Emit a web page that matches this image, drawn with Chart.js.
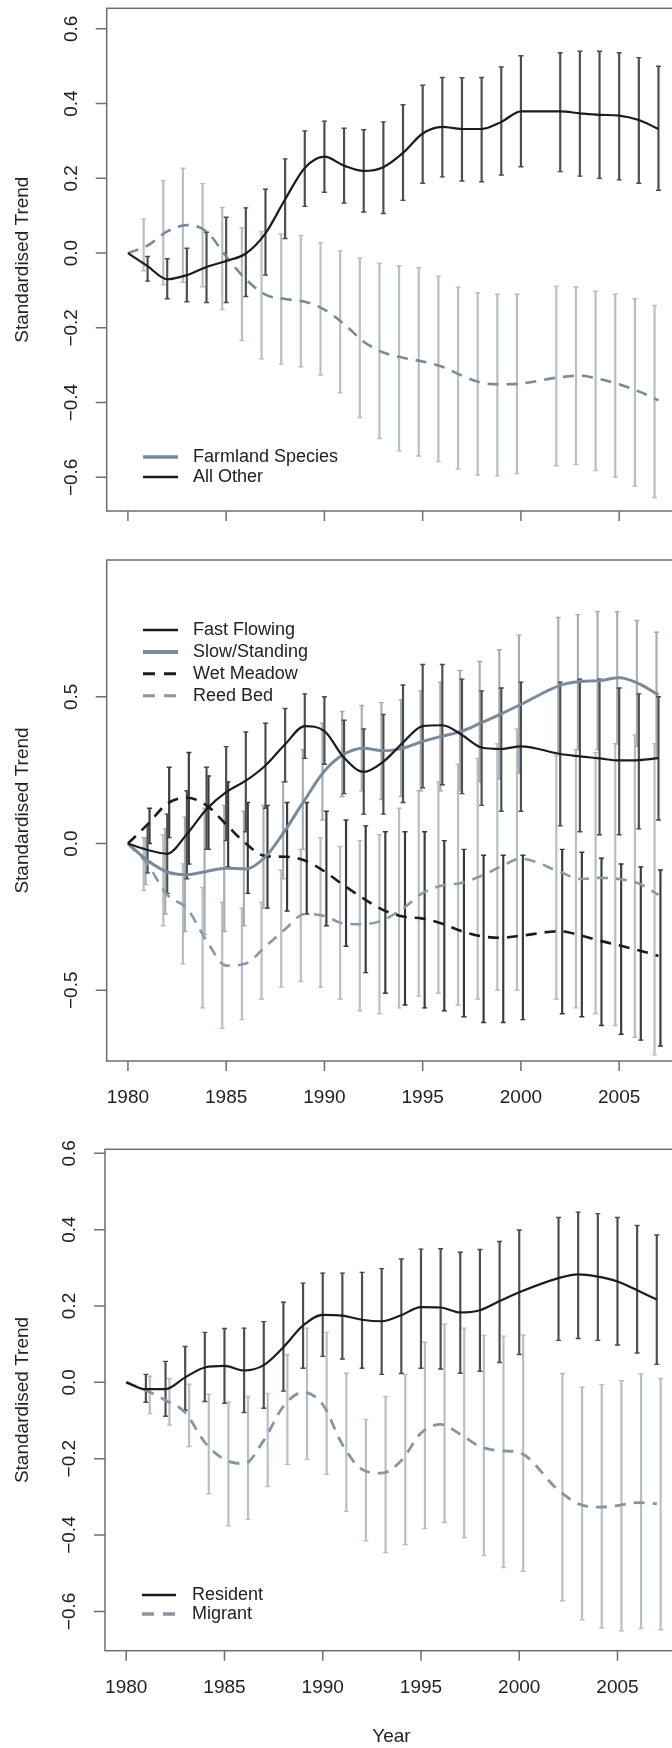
<!DOCTYPE html>
<html>
<head>
<meta charset="utf-8">
<script src="https://cdn.jsdelivr.net/npm/chart.js@4.4.1/dist/chart.umd.min.js"></script>
<style>
  html, body { margin: 0; padding: 0; background: #fff; width: 672px; height: 1748px; overflow: hidden; position: relative; }
  canvas { position: absolute; left: 0; }
</style>
</head>
<body>
<canvas id="farm" width="690" height="540" style="top:0"></canvas>
<canvas id="habitat" width="690" height="580" style="top:540px"></canvas>
<canvas id="migr" width="690" height="628" style="top:1120px"></canvas>
<script>
// years with a trend value (no survey in 2001); error bars from 1981 on
const years = [1980, 1981, 1982, 1983, 1984, 1985, 1986, 1987, 1988, 1989, 1990,
  1991, 1992, 1993, 1994, 1995, 1996, 1997, 1998, 1999, 2000,
  2002, 2003, 2004, 2005, 2006, 2007];
const barYears = years.slice(1);
const xTicks = [1980, 1985, 1990, 1995, 2000, 2005];
const yTicksA = [-0.6, -0.4, -0.2, 0, 0.2, 0.4, 0.6];
const yTicksB = [-0.5, 0, 0.5];
const yTicksC = [-0.6, -0.4, -0.2, 0, 0.2, 0.4, 0.6];

// panel 1
const farmland = [0, 0.02, 0.058, 0.075, 0.058, -0.009, -0.07, -0.111, -0.123, -0.13, -0.151,
  -0.19, -0.237, -0.266, -0.28, -0.29, -0.304, -0.328, -0.347, -0.351, -0.349,
  -0.332, -0.328, -0.337, -0.351, -0.37, -0.394];
const farmlandHi = [0.091, 0.194, 0.227, 0.186, 0.122, 0.068, 0.058, 0.051, 0.047, 0.028,
  0.006, -0.013, -0.028, -0.034, -0.039, -0.062, -0.091, -0.106, -0.11, -0.11,
  -0.089, -0.09, -0.102, -0.11, -0.122, -0.14];
const farmlandLo = [-0.047, -0.085, -0.078, -0.09, -0.151, -0.234, -0.283, -0.297, -0.304, -0.326,
  -0.374, -0.44, -0.496, -0.529, -0.543, -0.558, -0.578, -0.594, -0.596, -0.59,
  -0.569, -0.566, -0.582, -0.599, -0.624, -0.654];
const allOther = [0, -0.035, -0.07, -0.059, -0.037, -0.021, -0.001, 0.053, 0.144, 0.228, 0.258,
  0.234, 0.22, 0.23, 0.268, 0.32, 0.338, 0.332, 0.332, 0.351, 0.379,
  0.379, 0.374, 0.37, 0.368, 0.356, 0.332];
const allOtherHi = [-0.009, -0.015, 0.013, 0.056, 0.096, 0.121, 0.171, 0.252, 0.327, 0.353,
  0.334, 0.33, 0.351, 0.397, 0.449, 0.47, 0.469, 0.47, 0.498, 0.528,
  0.536, 0.54, 0.54, 0.536, 0.523, 0.5];
const allOtherLo = [-0.075, -0.122, -0.13, -0.132, -0.132, -0.116, -0.059, 0.039, 0.125, 0.163,
  0.134, 0.11, 0.106, 0.141, 0.187, 0.204, 0.193, 0.191, 0.209, 0.231,
  0.218, 0.206, 0.2, 0.196, 0.187, 0.168];

// panel 2
const fast = [0, -0.022, -0.035, 0.032, 0.117, 0.175, 0.214, 0.266, 0.338, 0.4, 0.383,
  0.292, 0.244, 0.279, 0.344, 0.4, 0.403, 0.37, 0.327, 0.322, 0.331,
  0.305, 0.297, 0.29, 0.283, 0.284, 0.291];
const fastHi = [0.06, 0.10, 0.18, 0.26, 0.33, 0.38, 0.41, 0.46, 0.51, 0.50,
  0.42, 0.39, 0.44, 0.54, 0.61, 0.61, 0.56, 0.52, 0.53, 0.55,
  0.55, 0.56, 0.56, 0.53, 0.51, 0.50];
const fastLo = [-0.10, -0.17, -0.12, -0.02, 0.01, 0.04, 0.12, 0.21, 0.29, 0.27,
  0.17, 0.10, 0.10, 0.14, 0.19, 0.20, 0.17, 0.13, 0.11, 0.11,
  0.06, 0.04, 0.03, 0.03, 0.05, 0.08];
const slow = [0, -0.058, -0.097, -0.106, -0.095, -0.084, -0.087, -0.045, 0.045, 0.149, 0.247,
  0.305, 0.325, 0.316, 0.325, 0.348, 0.366, 0.383, 0.412, 0.442, 0.474,
  0.539, 0.552, 0.555, 0.565, 0.545, 0.506];
const slowHi = [0.02, 0.05, 0.09, 0.12, 0.13, 0.11, 0.13, 0.21, 0.32, 0.41,
  0.45, 0.47, 0.48, 0.49, 0.52, 0.55, 0.59, 0.62, 0.66, 0.71,
  0.77, 0.78, 0.79, 0.79, 0.76, 0.72];
const slowLo = [-0.14, -0.24, -0.30, -0.31, -0.30, -0.28, -0.22, -0.12, -0.02, 0.08,
  0.16, 0.18, 0.15, 0.16, 0.18, 0.18, 0.18, 0.21, 0.22, 0.24,
  0.31, 0.32, 0.32, 0.34, 0.33, 0.29];
const wet = [0, 0.065, 0.136, 0.156, 0.13, 0.065, 0.0, -0.043, -0.045, -0.058, -0.095,
  -0.143, -0.188, -0.227, -0.249, -0.256, -0.273, -0.299, -0.316, -0.321, -0.314,
  -0.299, -0.312, -0.331, -0.347, -0.364, -0.383];
const wetHi = [0.12, 0.26, 0.31, 0.23, 0.21, 0.14, 0.13, 0.14, 0.14, 0.11,
  0.08, 0.06, 0.04, 0.04, 0.04, 0.01, -0.02, -0.04, -0.04, -0.04,
  -0.02, -0.03, -0.05, -0.07, -0.08, -0.09];
const wetLo = [0.00, 0.02, -0.07, -0.02, -0.08, -0.17, -0.22, -0.23, -0.24, -0.28,
  -0.35, -0.44, -0.51, -0.55, -0.56, -0.57, -0.59, -0.61, -0.61, -0.60,
  -0.58, -0.59, -0.62, -0.65, -0.67, -0.69];
const reed = [0, -0.071, -0.175, -0.221, -0.331, -0.416, -0.409, -0.351, -0.292, -0.24, -0.247,
  -0.273, -0.275, -0.26, -0.221, -0.169, -0.143, -0.134, -0.11, -0.078, -0.052,
  -0.097, -0.121, -0.117, -0.121, -0.136, -0.175];
const reedHi = [0.02, 0.03, -0.07, -0.15, -0.20, -0.22, -0.20, -0.09, -0.02, 0.02,
  -0.01, 0.01, 0.03, 0.12, 0.18, 0.21, 0.27, 0.29, 0.34, 0.39,
  0.30, 0.32, 0.31, 0.34, 0.37, 0.34];
const reedLo = [-0.16, -0.28, -0.41, -0.56, -0.63, -0.60, -0.53, -0.49, -0.47, -0.49,
  -0.53, -0.57, -0.58, -0.56, -0.52, -0.51, -0.55, -0.53, -0.50, -0.50,
  -0.53, -0.56, -0.58, -0.62, -0.66, -0.72];

// panel 3
const resident = [0, -0.018, -0.018, 0.013, 0.039, 0.043, 0.031, 0.045, 0.092, 0.149, 0.177,
  0.175, 0.164, 0.16, 0.176, 0.197, 0.196, 0.183, 0.189, 0.213, 0.236,
  0.273, 0.283, 0.277, 0.264, 0.241, 0.217];
const residentHi = [0.021, 0.055, 0.094, 0.131, 0.141, 0.142, 0.159, 0.21, 0.26, 0.286,
  0.286, 0.288, 0.298, 0.323, 0.349, 0.35, 0.341, 0.348, 0.369, 0.399,
  0.432, 0.446, 0.442, 0.432, 0.411, 0.386];
const residentLo = [-0.052, -0.089, -0.073, -0.05, -0.055, -0.079, -0.068, -0.023, 0.037, 0.068,
  0.061, 0.037, 0.021, 0.023, 0.037, 0.035, 0.024, 0.029, 0.052, 0.073,
  0.11, 0.115, 0.11, 0.098, 0.077, 0.047];
const migrant = [0, -0.021, -0.047, -0.079, -0.157, -0.202, -0.213, -0.152, -0.063, -0.026, -0.058,
  -0.163, -0.228, -0.238, -0.205, -0.133, -0.11, -0.136, -0.168, -0.179, -0.184,
  -0.283, -0.318, -0.327, -0.323, -0.315, -0.318];
const migrantHi = [0.016, 0.01, -0.005, -0.031, -0.052, -0.037, -0.029, 0.073, 0.142, 0.131,
  0.024, -0.097, -0.037, 0.021, 0.105, 0.152, 0.142, 0.123, 0.121, 0.124,
  0.023, -0.013, -0.006, 0.004, 0.022, 0.01];
const migrantLo = [-0.082, -0.112, -0.168, -0.292, -0.376, -0.359, -0.273, -0.215, -0.202, -0.241,
  -0.338, -0.415, -0.446, -0.425, -0.383, -0.367, -0.407, -0.454, -0.485, -0.495,
  -0.572, -0.622, -0.643, -0.651, -0.645, -0.648];

const FONT = '"Liberation Sans", Arial, sans-serif';
const BLACK = '#1c1c1c';
const SLATE = '#7b8998';
const DARKBAR = '#4d4d4d';
const LIGHTBAR = '#b6bec7';
const DASH = [11, 8];

function lineSet(label, vals, color, width, dash) {
  return {
    type: 'line', label,
    data: years.map((x, i) => ({ x, y: vals[i] })),
    borderColor: color, borderWidth: width, borderDash: dash || [],
    pointRadius: 0, fill: false, cubicInterpolationMode: 'monotone', order: 0
  };
}

// error bar = thin floating bar plus two flat "line" points as caps
function errSets(lo, hi, color, shift, order) {
  return [
    {
      type: 'bar',
      data: barYears.map((yr, i) => ({ x: yr + shift, y: [lo[i], hi[i]] })),
      backgroundColor: color, barThickness: 1.5, grouped: false, order
    },
    {
      type: 'line', showLine: false,
      data: barYears.flatMap((yr, i) => [{ x: yr + shift, y: lo[i] }, { x: yr + shift, y: hi[i] }]),
      pointStyle: 'line', pointRadius: 2.5, pointBorderWidth: 1.4,
      pointBorderColor: color, borderColor: color, order
    }
  ];
}

const fmt = v => (v < 0 ? '\u2212' : '') + Math.abs(v).toFixed(1);

const rFrame = {
  id: 'rFrame',
  afterDraw(chart, args, o) {
    const { ctx, chartArea: a, scales: { x, y } } = chart;
    ctx.save();
    ctx.strokeStyle = '#6f6f6f';
    ctx.lineWidth = 1.5;
    ctx.strokeRect(a.left, a.top, a.right - a.left, a.bottom - a.top);
    ctx.beginPath();
    xTicks.forEach(v => {
      const px = x.getPixelForValue(v);
      ctx.moveTo(px, a.bottom); ctx.lineTo(px, a.bottom + 10);
    });
    o.yTicks.forEach(v => {
      const py = y.getPixelForValue(v);
      ctx.moveTo(a.left, py); ctx.lineTo(a.left - 11, py);
    });
    ctx.stroke();

    ctx.fillStyle = '#222';
    ctx.font = '19px ' + FONT;
    ctx.textAlign = 'center';
    ctx.textBaseline = 'middle';
    if (o.xLabels) {
      xTicks.forEach(v => ctx.fillText(String(v), x.getPixelForValue(v), a.bottom + 37));
    }
    o.yTicks.forEach(v => {
      ctx.save();
      ctx.translate(a.left - 35, y.getPixelForValue(v));
      ctx.rotate(-Math.PI / 2);
      ctx.fillText(fmt(v), 0, 0);
      ctx.restore();
    });
    ctx.save();
    ctx.translate(23, (a.top + a.bottom) / 2);
    ctx.rotate(-Math.PI / 2);
    ctx.fillText('Standardised Trend', 0, 0);
    ctx.restore();
    if (o.xTitle) ctx.fillText(o.xTitle, (a.left + a.right) / 2, a.bottom + 86);

    // legend
    const L = o.legend;
    ctx.font = '18px ' + FONT;
    ctx.textAlign = 'left';
    L.items.forEach((it, k) => {
      const ly = L.y0 + k * L.dy;
      ctx.strokeStyle = it.color;
      ctx.lineWidth = it.width;
      ctx.setLineDash(it.dash || []);
      ctx.beginPath();
      ctx.moveTo(L.x0, ly); ctx.lineTo(L.x1, ly);
      ctx.stroke();
      ctx.setLineDash([]);
      ctx.fillText(it.label, L.tx, ly);
    });
    ctx.restore();
  }
};

function makePanel(id, datasets, yMin, yMax, pad, frameOpts) {
  return new Chart(document.getElementById(id), {
    type: 'line',
    data: { datasets },
    options: {
      responsive: false, animation: false, events: [],
      layout: { padding: pad },
      scales: {
        x: { type: 'linear', min: 1978.92, max: 2008.08, offset: false, display: false },
        y: { type: 'linear', min: yMin, max: yMax, display: false }
      },
      plugins: { legend: { display: false }, tooltip: { enabled: false }, rFrame: frameOpts }
    },
    plugins: [rFrame]
  });
}

makePanel('farm', [
  lineSet('All Other', allOther, BLACK, 2.2),
  lineSet('Farmland Species', farmland, SLATE, 2.6, DASH),
  ...errSets(allOtherLo, allOtherHi, DARKBAR, 0, 1),
  ...errSets(farmlandLo, farmlandHi, LIGHTBAR, -0.2, 2)
], -0.69, 0.655, { left: 106.7, right: 10.3, top: 8.3, bottom: 29 }, {
  yTicks: yTicksA, xLabels: false,
  legend: { x0: 143, x1: 178, tx: 193, y0: 457, dy: 20, items: [
    { label: 'Farmland Species', color: SLATE, width: 3.5 },
    { label: 'All Other', color: BLACK, width: 2.5 }
  ] }
});

makePanel('habitat', [
  lineSet('Fast Flowing', fast, BLACK, 2.2),
  lineSet('Slow/Standing', slow, SLATE, 3),
  lineSet('Wet Meadow', wet, BLACK, 2.6, DASH),
  lineSet('Reed Bed', reed, '#8d98a5', 2.6, DASH),
  ...errSets(fastLo, fastHi, DARKBAR, 0, 1),
  ...errSets(wetLo, wetHi, '#3a3a3a', 0.1, 1),
  ...errSets(slowLo, slowHi, '#a5adb6', -0.1, 2),
  ...errSets(reedLo, reedHi, LIGHTBAR, -0.2, 3)
], -0.741, 0.966, { left: 106.7, right: 10.3, top: 20, bottom: 59 }, {
  yTicks: yTicksB, xLabels: true,
  legend: { x0: 143, x1: 178, tx: 193, y0: 90, dy: 21.9, items: [
    { label: 'Fast Flowing', color: BLACK, width: 2.5 },
    { label: 'Slow/Standing', color: SLATE, width: 4 },
    { label: 'Wet Meadow', color: BLACK, width: 3, dash: [12, 9] },
    { label: 'Reed Bed', color: '#8d98a5', width: 3, dash: [12, 9] }
  ] }
});

makePanel('migr', [
  lineSet('Resident', resident, BLACK, 2.2),
  lineSet('Migrant', migrant, '#8a95a2', 2.8, DASH),
  ...errSets(residentLo, residentHi, DARKBAR, 0, 1),
  ...errSets(migrantLo, migrantHi, LIGHTBAR, 0.2, 2)
], -0.703, 0.6105, { left: 105, right: 12, top: 29.3, bottom: 97.3 }, {
  yTicks: yTicksC, xLabels: true, xTitle: 'Year',
  legend: { x0: 142, x1: 176, tx: 192, y0: 475, dy: 19, items: [
    { label: 'Resident', color: BLACK, width: 2.5 },
    { label: 'Migrant', color: '#8a95a2', width: 3.5, dash: [12, 9] }
  ] }
});
</script>
</body>
</html>
